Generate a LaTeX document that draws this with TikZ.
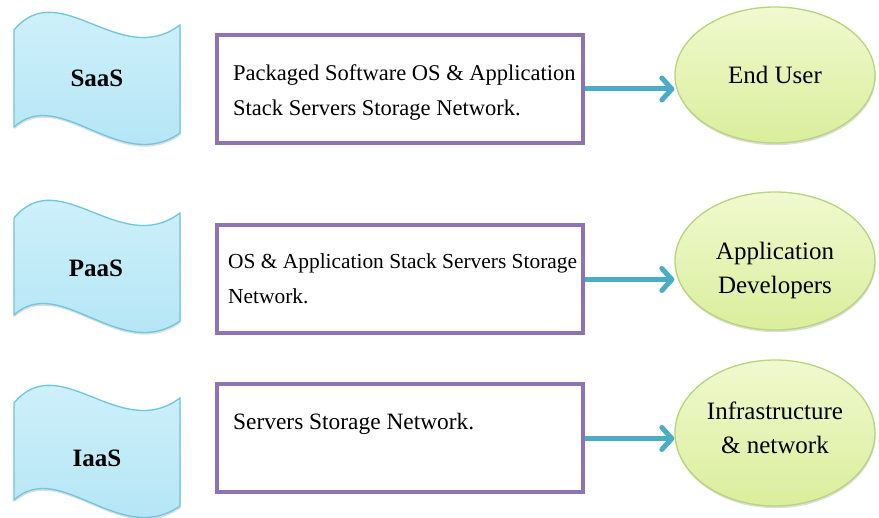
\documentclass[tikz,border=0pt]{standalone}
\usepackage{fontspec}
\setmainfont{Liberation Serif}
\usetikzlibrary{arrows.meta,shadows,shapes.geometric}

\definecolor{flagtop}{HTML}{D4F3FC}
\definecolor{flagbottom}{HTML}{B0E3F4}
\definecolor{flagline}{HTML}{6EC6DF}
\definecolor{boxline}{HTML}{8F73B6}
\definecolor{flowcol}{HTML}{4BACC6}
\definecolor{elltop}{HTML}{F0F9CF}
\definecolor{ellbottom}{HTML}{DAEE9C}
\definecolor{ellline}{HTML}{B8D47C}

\begin{document}
\begin{tikzpicture}[x=1pt,y=-1pt,
  softshadow/.style={drop shadow={shadow xshift=0.6pt,shadow yshift=-2.2pt,opacity=0.22,fill=black!60}},
  flagshape/.style={draw=flagline,line width=1.3pt,top color=flagtop,bottom color=flagbottom,softshadow},
  flaglabel/.style={font=\bfseries\fontsize{25}{30}\selectfont,inner sep=0pt},
  infobox/.style={draw=boxline,line width=4pt,fill=white,minimum width=366pt,minimum height=108pt,
    drop shadow={shadow xshift=0.6pt,shadow yshift=-1.5pt,opacity=0.18,fill=black!60}},
  boxtext/.style={align=left,inner sep=0pt,anchor=north west},
  target/.style={ellipse,draw=ellline,line width=1.3pt,top color=elltop,bottom color=ellbottom,
    minimum width=200pt,softshadow},
  targettext/.style={font=\fontsize{25}{34}\selectfont,align=center,inner sep=0pt},
  flow/.style={draw=flowcol,line width=5pt,-{Straight Barb[length=10pt,width=22pt,round]}},
  wave/.pic={
    \path[flagshape] (14,30) .. controls (60,-25) and (120,70) .. (180,25)
      -- (180,133) .. controls (120,175) and (60,85) .. (14,127) -- cycle;
  }]

% page and margins
\fill[white] (0,0) rectangle (879,518);
\useasboundingbox (0,0) rectangle (879,518);

% service models
\pic at (0,0) {wave};
\pic at (0,188) {wave};
\pic at (0,373) {wave};
\node[flaglabel] (saas) at (97,78) {SaaS};
\node[flaglabel] (paas) at (96,268) {PaaS};
\node[flaglabel] (iaas) at (97,458) {IaaS};

% what each model provides
\node[infobox] (b1) at (400,89) {};
\node[infobox] (b2) at (400,279.5) {};
\node[infobox] (b3) at (400,438.5) {};
\node[boxtext,font=\fontsize{22.5}{35}\selectfont] (t1) at (233,64)
  {Packaged Software OS \& Application\\Stack Servers Storage Network.};
\node[boxtext,font=\fontsize{21.4}{35}\selectfont] (t2) at (228,253.5)
  {OS \& Application Stack Servers Storage\\Network.};
\node[boxtext,font=\fontsize{23.4}{35}\selectfont] (t3) at (233,413)
  {Servers Storage Network.};

% who uses it
\node[target,minimum height=136pt] (e1) at (775,75) {};
\node[target,minimum height=138pt] (e2) at (775,261) {};
\node[target,minimum height=146pt] (e3) at (775,433) {};
\node[targettext] (u1) at (775,75) {End User};
\node[targettext] (u2) at (775,270) {Application\\Developers};
\node[targettext] (u3) at (775,428) {Infrastructure\\\& network};

% connectors
\draw[flow] (b1.east) -- (b1.east -| e1.west);
\draw[flow] (b2.east) -- (b2.east -| e2.west);
\draw[flow] (b3.east) -- (b3.east -| e3.west);
\end{tikzpicture}
\end{document}
